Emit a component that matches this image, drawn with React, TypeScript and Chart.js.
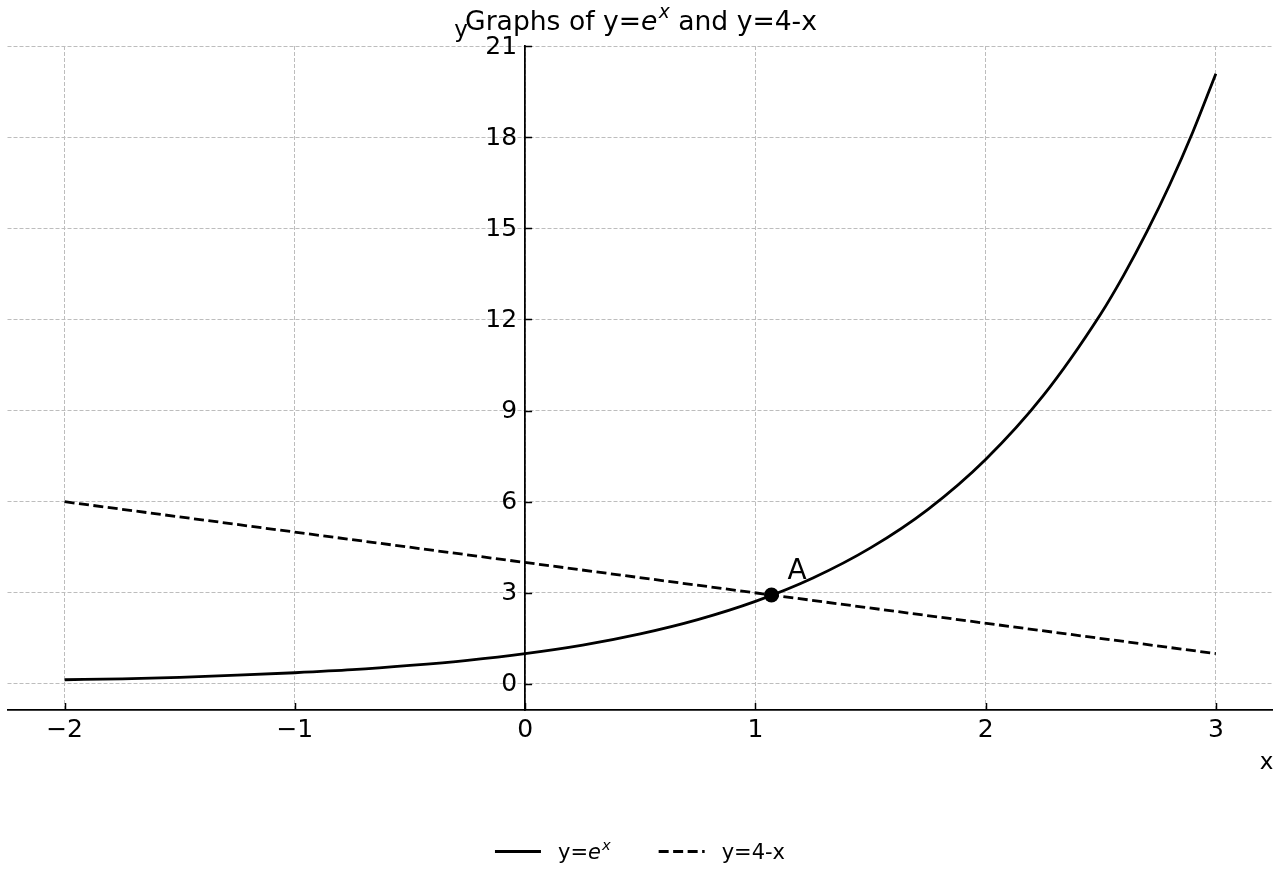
import React, { useEffect, useRef } from 'react';
import { Chart, registerables } from 'chart.js';

Chart.register(...registerables);

// ---- axis ranges & ticks ----
const X_MIN = -2.248;
const X_MAX = 3.246;
const Y_MIN = -0.856;
const Y_MAX = 21;
const X_STEP = 1;
const Y_STEP = 3;

// ---- series: y = e^x ----
const expXs = [-2, -1.75, -1.5, -1.25, -1, -0.75, -0.5, -0.25, 0, 0.25, 0.5, 0.75, 1, 1.25, 1.5, 1.75, 2, 2.25, 2.5, 2.6, 2.7, 2.8, 2.9, 3];
const expYs = [0.14, 0.17, 0.22, 0.29, 0.37, 0.47, 0.61, 0.78, 1.0, 1.28, 1.65, 2.12, 2.72, 3.49, 4.48, 5.75, 7.39, 9.49, 12.18, 13.46, 14.88, 16.44, 18.17, 20.09];

// ---- series: y = 4 - x ----
const lineXs = [-2, 3];
const lineYs = [6, 1];

// ---- intersection point A ----
const pointAX = [1.07];
const pointAY = [2.93];
const pointALabel = 'A';

// ---- texts ----
const titleParts = [
  { text: 'Graphs of y=', italic: false, sup: false },
  { text: 'e', italic: true, sup: false },
  { text: 'x', italic: true, sup: true },
  { text: ' and y=4-x', italic: false, sup: false },
];
const legendLabel1 = [
  { text: 'y=', italic: false, sup: false },
  { text: 'e', italic: true, sup: false },
  { text: 'x', italic: true, sup: true },
];
const legendLabel2 = [{ text: 'y=4-x', italic: false, sup: false }];
const xAxisLabel = 'x';
const yAxisLabel = 'y';

const FONT = "'DejaVu Sans', sans-serif";

type Part = { text: string; italic: boolean; sup: boolean };

function partFont(p: Part, size: number) {
  const s = p.sup ? size * 0.7 : size;
  return `${p.italic ? 'italic ' : ''}${s}px ${FONT}`;
}

function richWidth(ctx: CanvasRenderingContext2D, parts: Part[], size: number) {
  let w = 0;
  for (const p of parts) {
    ctx.font = partFont(p, size);
    w += ctx.measureText(p.text).width + (p.sup ? size * 0.05 : 0);
  }
  return w;
}

function drawRich(ctx: CanvasRenderingContext2D, parts: Part[], size: number, x: number, baseline: number) {
  let cx = x;
  ctx.textAlign = 'left';
  ctx.textBaseline = 'alphabetic';
  for (const p of parts) {
    ctx.font = partFont(p, size);
    const y = p.sup ? baseline - size * 0.42 : baseline;
    if (p.sup) cx += size * 0.05;
    ctx.fillText(p.text, cx, y);
    cx += ctx.measureText(p.text).width;
  }
}

const minusFmt = (v: any) => String(v).replace('-', '\u2212');

const annotationsPlugin = {
  id: 'annotations',
  afterDraw(chart: any) {
    const ctx: CanvasRenderingContext2D = chart.ctx;
    const xs = chart.scales.x;
    const ys = chart.scales.y;
    const area = chart.chartArea;
    ctx.save();
    ctx.fillStyle = '#000';
    ctx.strokeStyle = '#000';

    // inward tick marks + y tick labels (from the y scale's ticks)
    ctx.lineWidth = 1.5;
    const x0 = xs.getPixelForValue(0);
    ctx.font = `25px ${FONT}`;
    ctx.textAlign = 'right';
    ctx.textBaseline = 'middle';
    ys.ticks.forEach((t: any) => {
      const yp = ys.getPixelForValue(t.value);
      const py = Math.round(yp) + 0.5;
      ctx.beginPath();
      ctx.moveTo(x0, py);
      ctx.lineTo(x0 + 7, py);
      ctx.stroke();
      ctx.fillText(minusFmt(t.value), x0 - 8, yp + 1);
    });
    xs.ticks.forEach((t: any) => {
      const px = Math.round(xs.getPixelForValue(t.value)) + 0.5;
      ctx.beginPath();
      ctx.moveTo(px, area.bottom);
      ctx.lineTo(px, area.bottom - 7);
      ctx.stroke();
    });

    // title
    const titleSize = 26.6;
    const tw = richWidth(ctx, titleParts, titleSize);
    drawRich(ctx, titleParts, titleSize, (area.left + area.right) / 2 + 1 - tw / 2, 29.5);

    // axis labels
    ctx.font = `23px ${FONT}`;
    ctx.textAlign = 'center';
    ctx.textBaseline = 'alphabetic';
    ctx.fillText(xAxisLabel, area.right - 6, 769);
    ctx.fillText(yAxisLabel, x0 - 64, 37);

    // point label
    const pax = xs.getPixelForValue(pointAX[0]);
    const pay = ys.getPixelForValue(pointAY[0]);
    ctx.font = `28px ${FONT}`;
    ctx.textAlign = 'left';
    ctx.fillText(pointALabel, pax + 16, pay - 16);

    // legend
    const legSize = 21;
    const handle = 46;
    const pad = 17;
    const gap = 48;
    const w1 = richWidth(ctx, legendLabel1, legSize);
    const w2 = richWidth(ctx, legendLabel2, legSize);
    const total = handle + pad + w1 + gap + handle + pad + w2;
    let lx = (area.left + area.right) / 2 - total / 2;
    const ly = 851.5;
    const lb = 858.5;
    ctx.lineWidth = 2.8;
    ctx.setLineDash([]);
    ctx.beginPath();
    ctx.moveTo(lx, ly);
    ctx.lineTo(lx + handle, ly);
    ctx.stroke();
    drawRich(ctx, legendLabel1, legSize, lx + handle + pad, lb);
    lx += handle + pad + w1 + gap;
    ctx.setLineDash([10, 4.5]);
    ctx.beginPath();
    ctx.moveTo(lx, ly);
    ctx.lineTo(lx + handle, ly);
    ctx.stroke();
    ctx.setLineDash([]);
    drawRich(ctx, legendLabel2, legSize, lx + handle + pad, lb);

    ctx.restore();
  },
};

export default function App() {
  const ref = useRef<HTMLCanvasElement | null>(null);

  useEffect(() => {
    if (!ref.current) return;
    Chart.defaults.font.family = FONT;
    Chart.defaults.color = '#000';
    const chart = new Chart(ref.current, {
      type: 'scatter',
      data: {
        datasets: [
          {
            label: 'A',
            data: pointAX.map((x, i) => ({ x, y: pointAY[i] })),
            backgroundColor: '#000',
            borderColor: '#000',
            pointRadius: 7.5,
            pointBorderWidth: 0,
            showLine: false,
            order: 0,
          },
          {
            label: 'y=e^x',
            data: expXs.map((x, i) => ({ x, y: expYs[i] })),
            borderColor: '#000',
            borderWidth: 2.8,
            pointRadius: 0,
            showLine: true,
            cubicInterpolationMode: 'monotone',
            order: 1,
          },
          {
            label: 'y=4-x',
            data: lineXs.map((x, i) => ({ x, y: lineYs[i] })),
            borderColor: '#000',
            borderWidth: 2.8,
            borderDash: [10, 4.5],
            pointRadius: 0,
            showLine: true,
            order: 2,
          },
        ],
      },
      options: {
        animation: false,
        responsive: false,
        devicePixelRatio: 1,
        layout: { padding: { left: 7, right: 7, top: 46, bottom: 170 } },
        plugins: {
          legend: { display: false },
          title: { display: false },
          tooltip: { enabled: false },
        },
        scales: {
          x: {
            type: 'linear',
            position: { y: Y_MIN } as any,
            min: X_MIN,
            max: X_MAX,
            ticks: {
              stepSize: X_STEP,
              includeBounds: false,
              font: { size: 25 },
              color: '#000',
              padding: 5,
              maxRotation: 0,
              callback: minusFmt,
            },
            grid: { color: '#bdbdbd', lineWidth: 1, drawTicks: false },
            border: { display: true, color: '#000', width: 1.75, dash: [4, 2] },
          },
          y: {
            type: 'linear',
            position: { x: 0 } as any,
            min: Y_MIN,
            max: Y_MAX,
            ticks: {
              stepSize: Y_STEP,
              includeBounds: false,
              display: false,
            },
            grid: { color: '#bdbdbd', lineWidth: 1, drawTicks: false },
            border: { display: true, color: '#000', width: 1.75, dash: [4, 2] },
          },
        },
      },
      plugins: [annotationsPlugin],
    });
    return () => chart.destroy();
  }, []);

  return (
    <div style={{ position: 'absolute', left: 0, top: 0, width: 1280, height: 880, background: '#fff' }}>
      <canvas ref={ref} width={1280} height={880} style={{ display: 'block' }} />
    </div>
  );
}
